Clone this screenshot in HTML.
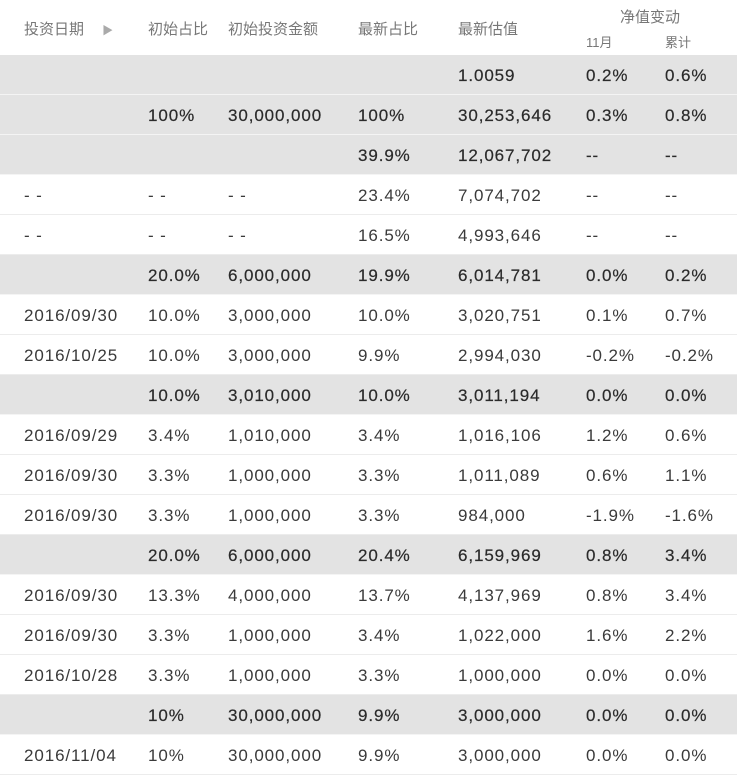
<!DOCTYPE html>
<html><head><meta charset="utf-8"><style>
body{margin:0;width:737px;height:776px;background:#fff;font-family:"Liberation Sans","Noto Sans CJK SC",sans-serif;overflow:hidden;position:relative}
.h{position:absolute;font-size:15px;color:#777;white-space:nowrap}
.r{position:absolute;left:0;width:737px;height:39px;border-bottom:1px solid #ececec}
.r.g{background:#e3e3e3;border-bottom:1px solid #f4f4f4}
.c{position:absolute;top:1px;line-height:40px;font-size:17px;letter-spacing:0.9px;color:#3a3a3a;white-space:nowrap}
.g .c{color:#2a2a2a;-webkit-text-stroke:0.2px #2a2a2a}
</style></head><body>
<div class="h" style="left:24px;top:18px">投资日期 <span style="color:#aaa;margin-left:14px;font-size:11px">▶</span></div>
<div class="h" style="left:148px;top:18px">初始占比</div>
<div class="h" style="left:228px;top:18px">初始投资金额</div>
<div class="h" style="left:358px;top:18px">最新占比</div>
<div class="h" style="left:458px;top:18px">最新估值</div>
<div class="h" style="left:620px;top:6px">净值变动</div>
<div class="h" style="left:586px;top:32px;font-size:13px">11月</div>
<div class="h" style="left:665px;top:32px;font-size:13px">累计</div>
<div id="t"></div>
<script>
const rows=[
[1,"","","","","1.0059","0.2%","0.6%"],
[1,"","100%","30,000,000","100%","30,253,646","0.3%","0.8%"],
[1,"","","","39.9%","12,067,702","--","--"],
[0,"- -","- -","- -","23.4%","7,074,702","--","--"],
[0,"- -","- -","- -","16.5%","4,993,646","--","--"],
[1,"","20.0%","6,000,000","19.9%","6,014,781","0.0%","0.2%"],
[0,"2016/09/30","10.0%","3,000,000","10.0%","3,020,751","0.1%","0.7%"],
[0,"2016/10/25","10.0%","3,000,000","9.9%","2,994,030","-0.2%","-0.2%"],
[1,"","10.0%","3,010,000","10.0%","3,011,194","0.0%","0.0%"],
[0,"2016/09/29","3.4%","1,010,000","3.4%","1,016,106","1.2%","0.6%"],
[0,"2016/09/30","3.3%","1,000,000","3.3%","1,011,089","0.6%","1.1%"],
[0,"2016/09/30","3.3%","1,000,000","3.3%","984,000","-1.9%","-1.6%"],
[1,"","20.0%","6,000,000","20.4%","6,159,969","0.8%","3.4%"],
[0,"2016/09/30","13.3%","4,000,000","13.7%","4,137,969","0.8%","3.4%"],
[0,"2016/09/30","3.3%","1,000,000","3.4%","1,022,000","1.6%","2.2%"],
[0,"2016/10/28","3.3%","1,000,000","3.3%","1,000,000","0.0%","0.0%"],
[1,"","10%","30,000,000","9.9%","3,000,000","0.0%","0.0%"],
[0,"2016/11/04","10%","30,000,000","9.9%","3,000,000","0.0%","0.0%"]
];
const xs=[24,148,228,358,458,586,665];
const names=['date','initial-ratio','initial-amount','latest-ratio','latest-value','month-change','cumulative-change'];
const t=document.getElementById('t');
rows.forEach((r,i)=>{
 const d=document.createElement('div');
 d.className='r'+(r[0]?' g':'');
 d.style.top=(55+i*40)+'px';
 
 
 for(let j=1;j<8;j++){
  const c=document.createElement('div');
  c.className='c';c.style.left=xs[j-1]+'px';c.textContent=r[j];
  
  
  d.appendChild(c);
 }
 t.appendChild(d);
});
</script>
</body></html>
